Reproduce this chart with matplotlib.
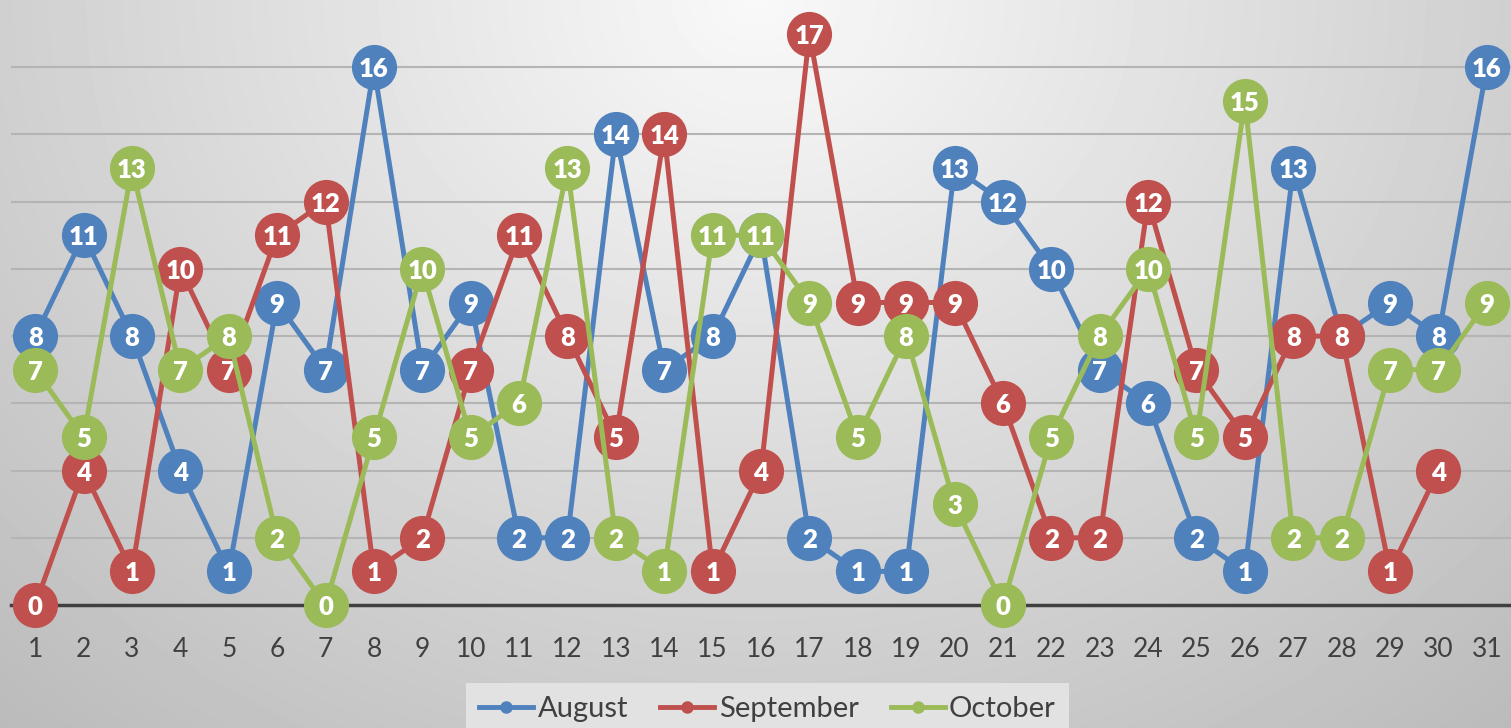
import numpy as np
import matplotlib
matplotlib.use("Agg")
import matplotlib.pyplot as plt
from matplotlib.lines import Line2D

days = list(range(1, 32))
august = [8, 11, 8, 4, 1, 9, 7, 16, 7, 9, 2, 2, 14, 7, 8, 11, 2, 1, 1, 13, 12, 10, 7, 6, 2, 1, 13, 8, 9, 8, 16]
september = [0, 4, 1, 10, 7, 11, 12, 1, 2, 7, 11, 8, 5, 14, 1, 4, 17, 9, 9, 9, 6, 2, 2, 12, 7, 5, 8, 8, 1, 4]
october = [7, 5, 13, 7, 8, 2, 0, 5, 10, 5, 6, 13, 2, 1, 11, 11, 9, 5, 8, 3, 0, 5, 8, 10, 5, 15, 2, 2, 7, 7, 9]
series_names = ["August", "September", "October"]
colors = ["#4F81BD", "#C0504D", "#9BBB59"]

W, H = 1511, 728
fig = plt.figure(figsize=(W / 100, H / 100), dpi=100)

# radial gradient background
bg = fig.add_axes([0, 0, 1, 1], zorder=-10)
yy, xx = np.mgrid[0:H, 0:W]
r = np.sqrt(((xx - 0.5 * W) / (0.62 * W)) ** 2 + ((yy - 0.0 * H) / (1.1 * H)) ** 2)
val = np.clip(0.975 - 0.2 * r, 0, 1)
bg.imshow(val, cmap="gray", vmin=0, vmax=1, aspect="auto", extent=[0, 1, 0, 1], origin="upper")
bg.axis("off")

ax = fig.add_axes([11 / W, 1 - 605 / H, 1 - 11 / W, 605 / H])
ax.set_facecolor("none")
ax.set_xlim(0.5, 31.5)
ax.set_ylim(0, 18)
ax.set_yticks(range(2, 18, 2))
ax.yaxis.grid(True, color="#b4b4b4", linewidth=1.5)
ax.set_axisbelow(True)
ax.tick_params(axis="y", left=False, labelleft=False)
ax.set_xticks(days)
ax.set_xticklabels([str(d) for d in days], fontfamily="Lato", fontsize=19, color="#404040")
ax.tick_params(axis="x", length=0, pad=23)
for s in ["left", "right", "top"]:
    ax.spines[s].set_visible(False)
ax.spines["bottom"].set_color("#404040")
ax.spines["bottom"].set_linewidth(2.5)
ax.spines["bottom"].set_zorder(1.5)

for i, (name, vals, c) in enumerate(zip(series_names, [august, september, october], colors)):
    xs = days[:len(vals)]
    z = 3 + i * 2
    ax.plot(xs, vals, color=c, linewidth=3.6, marker="o", markersize=32.5,
            markeredgewidth=0, clip_on=False, zorder=z, label=name)
    for x, v in zip(xs, vals):
        ax.text(x, v, str(v), ha="center", va="center_baseline", color="white",
                fontfamily="Lato", fontweight="heavy", fontsize=18.5, zorder=z + 1, clip_on=False)

handles = [Line2D([0], [0], color=c, linewidth=3.5, marker="o", markersize=8) for c in colors]
leg = fig.legend(handles, series_names, loc="lower center", bbox_to_anchor=(0.508, -0.03),
                 ncol=3, frameon=True, fancybox=False, handlelength=1.85,
                 handletextpad=0.15, columnspacing=1.1, borderpad=0.45,
                 prop={"family": "Lato", "size": 21})
leg.get_frame().set_facecolor("#e2e2e2")
leg.get_frame().set_edgecolor("none")
leg.get_frame().set_alpha(1)
for t in leg.get_texts():
    t.set_color("#404040")

fig.savefig("out.png", dpi=100)
